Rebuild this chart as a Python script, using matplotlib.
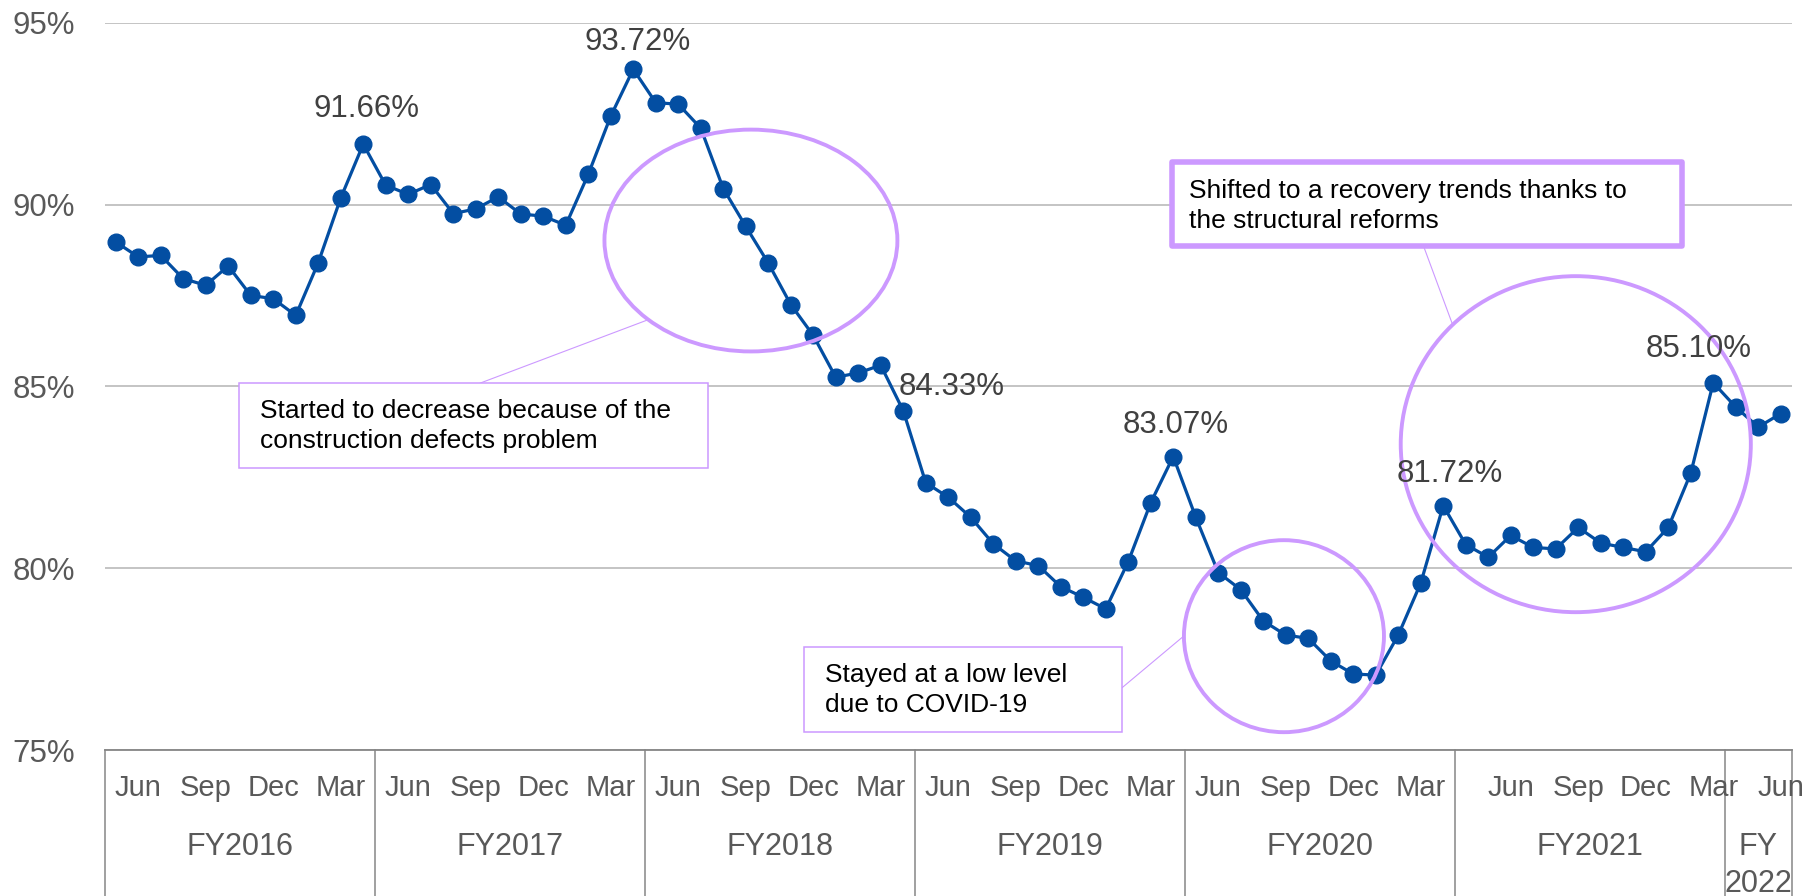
import numpy as np
import matplotlib.pyplot as plt
from matplotlib.patches import Ellipse, Rectangle
from matplotlib.transforms import blended_transform_factory

plt.rcParams['font.family'] = ['Liberation Sans', 'DejaVu Sans']

# occupancy rate, monthly (FY2016 .. Jun FY2022)
values = [
    88.97, 88.56, 88.60, 87.96, 87.78, 88.31, 87.50, 87.41, 86.95, 88.40, 90.18, 91.66,  # FY2016
    90.53, 90.28, 90.55, 89.75, 89.88, 90.21, 89.74, 89.68, 89.43, 90.83, 92.43, 93.72,  # FY2017
    92.80, 92.76, 92.10, 90.44, 89.40, 88.39, 87.25, 86.40, 85.25, 85.37, 85.58, 84.33,  # FY2018
    82.35, 81.95, 81.40, 80.67, 80.20, 80.07, 79.49, 79.20, 78.88, 80.18, 81.80, 83.07,  # FY2019
    81.40, 79.88, 79.41, 78.55, 78.16, 78.07, 77.45, 77.09, 77.06, 78.16, 79.59, 81.72,  # FY2020
    80.65, 80.30, 80.90, 80.57, 80.53, 81.12, 80.69, 80.57, 80.45, 81.12, 82.61, 85.10,  # FY2021
    84.43, 83.88, 84.25,  # FY2022
]
fy_names = ['FY2016', 'FY2017', 'FY2018', 'FY2019', 'FY2020', 'FY2021', 'FY\n2022']
fy_months = [12, 12, 12, 12, 12, 12, 3]
# month labels and the slot they sit in inside each fiscal year
month_names = [['Jun', 'Sep', 'Dec', 'Mar']] * 6 + [['Jun']]
month_slots = [[1, 4, 7, 10]] * 5 + [[2, 5, 8, 11], [2]]

# labelled points: index, offset in px, alignment
peak_idx = [11, 23, 35, 47, 59, 71]
peak_off = [(3, 35), (4, 27), (-5, 24), (2, 32), (6, 32), (-15, 34)]
peak_ha = ['center', 'center', 'left', 'center', 'center', 'center']

blue = '#034EA2'
purple = '#CC99FF'
grid_c = '#BFBFBF'
axis_c = '#868686'
text_c = '#595959'

W, H = 1819, 896
fig = plt.figure(figsize=(W / 100, H / 100), dpi=100)
ax = fig.add_axes([104.5 / W, 1 - 750 / H, (1792 - 104.5) / W, (750 - 22.7) / H])

x = np.arange(len(values))
ax.plot(x, values, color=blue, lw=2.3, marker='o', ms=12, zorder=3)

ax.set_xlim(-0.5, len(values) - 0.5)
ax.set_ylim(75, 95)
ax.set_yticks([75, 80, 85, 90, 95])
ax.set_yticklabels([f'{t}%' for t in [75, 80, 85, 90, 95]])
ax.tick_params(axis='y', length=0, pad=21, labelsize=22.5, labelcolor=text_c)
ax.set_xticks([])
ax.grid(axis='y', color=grid_c, lw=1.3)
ax.set_axisbelow(True)
for s in ['top', 'right', 'left']:
    ax.spines[s].set_visible(False)
ax.spines['bottom'].set_color(axis_c)
ax.spines['bottom'].set_linewidth(1.3)

# multi-level category axis
trans = blended_transform_factory(ax.transData, ax.transAxes)
axh = 750 - 22.7


def below(p):
    return -(p - 750) / axh


bounds = np.concatenate([[0], np.cumsum(fy_months)]) - 0.5
for b in bounds:
    ax.plot([b, b], [0, below(900)], transform=trans, clip_on=False,
            color=axis_c, lw=1.1)
for k, name in enumerate(fy_names):
    start = bounds[k] + 0.5
    for lab, slot in zip(month_names[k], month_slots[k]):
        ax.text(start + slot, below(788), lab, transform=trans,
                ha='center', va='center', fontsize=21, color=text_c)
    mid = (bounds[k] + bounds[k + 1]) / 2
    ax.text(mid, below(832), name, transform=trans, ha='center', va='top',
            fontsize=22, color=text_c, linespacing=1.3)

# value labels
for i, off, ha in zip(peak_idx, peak_off, peak_ha):
    ax.annotate(f'{values[i]:.2f}%', (i, values[i]), xytext=off,
                textcoords='offset pixels', ha=ha, va='center',
                fontsize=22.5, color='#404040', zorder=6)

# highlight ellipses
for c, w, h in [((28.23, 89.01), 13.02, 6.10),
                ((51.92, 78.13), 8.89, 5.28),
                ((64.89, 83.41), 15.56, 9.24)]:
    ax.add_patch(Ellipse(c, w, h, fill=False, ec=purple, lw=2.8, zorder=4))

# callouts
ax.plot([16.2, 23.61], [85.09, 86.82], color=purple, lw=0.8, zorder=4)
ax.plot([44.72, 47.48], [76.71, 78.14], color=purple, lw=0.8, zorder=4)
ax.plot([58.14, 59.39], [88.83, 86.74], color=purple, lw=0.8, zorder=4)

ax.add_patch(Rectangle((5.48, 82.75), 26.33 - 5.48, 85.09 - 82.75,
                       fc='white', ec=purple, lw=1.1, zorder=5))
ax.text(6.41, 83.91, 'Started to decrease because of the\nconstruction defects problem',
        ha='left', va='center', fontsize=19, color='black', linespacing=1.3, zorder=6)

ax.add_patch(Rectangle((30.59, 75.5), 44.72 - 30.59, 77.83 - 75.5,
                       fc='white', ec=purple, lw=1.1, zorder=5))
ax.text(31.52, 76.65, 'Stayed at a low level\ndue to COVID-19',
        ha='left', va='center', fontsize=19, color='black', linespacing=1.3, zorder=6)

ax.add_patch(Rectangle((46.94, 88.854), 69.59 - 46.94, 91.156 - 88.854,
                       fc='white', ec=purple, lw=4, joinstyle='round', zorder=5))
ax.text(47.7, 89.95, 'Shifted to a recovery trends thanks to\nthe structural reforms',
        ha='left', va='center', fontsize=19, color='black', linespacing=1.3, zorder=6)

fig.savefig('out.png', dpi=100)
